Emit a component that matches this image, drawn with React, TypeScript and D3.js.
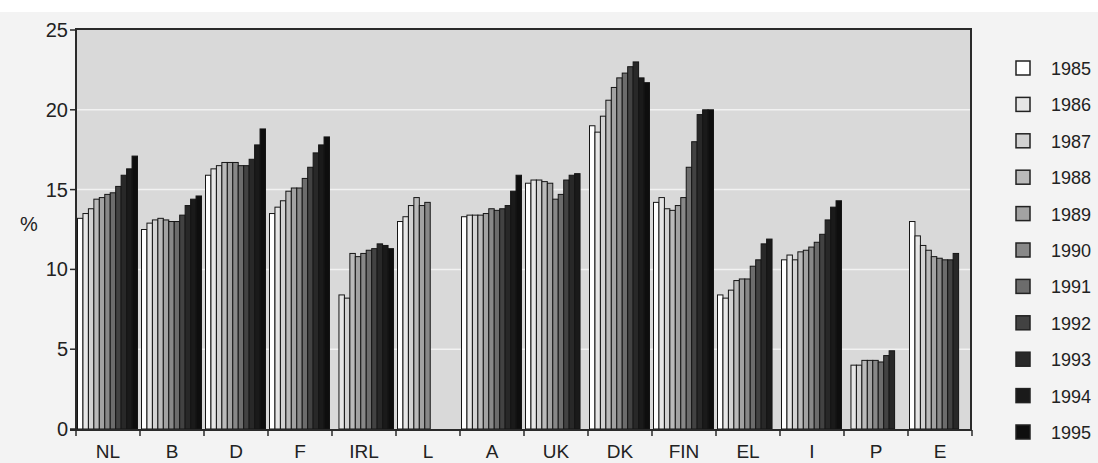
import React from "react";
import * as d3 from "d3";

const years = ["1985", "1986", "1987", "1988", "1989", "1990", "1991", "1992", "1993", "1994", "1995"];
const countries = ["NL", "B", "D", "F", "IRL", "L", "A", "UK", "DK", "FIN", "EL", "I", "P", "E"];
const yTicks = [0, 5, 10, 15, 20, 25];

// values per country, 1985..1995 (null = no bar)
const NL = [13.2, 13.5, 13.8, 14.4, 14.5, 14.7, 14.8, 15.2, 15.9, 16.3, 17.1];
const B = [12.5, 12.9, 13.1, 13.2, 13.1, 13.0, 13.0, 13.4, 14.0, 14.4, 14.6];
const D = [15.9, 16.3, 16.5, 16.7, 16.7, 16.7, 16.5, 16.5, 16.9, 17.8, 18.8];
const F = [13.5, 13.9, 14.3, 14.9, 15.1, 15.1, 15.7, 16.4, 17.3, 17.8, 18.3];
const IRL = [null, 8.4, 8.2, 11.0, 10.8, 11.0, 11.2, 11.3, 11.6, 11.5, 11.3];
const L = [13.0, 13.3, 14.0, 14.5, 14.0, 14.2, null, null, null, null, null];
const A = [13.3, 13.4, 13.4, 13.4, 13.5, 13.8, 13.7, 13.8, 14.0, 14.9, 15.9];
const UK = [15.4, 15.6, 15.6, 15.5, 15.4, 14.4, 14.7, 15.6, 15.9, 16.0, null];
const DK = [19.0, 18.6, 19.6, 20.6, 21.4, 22.0, 22.3, 22.7, 23.0, 22.0, 21.7];
const FIN = [14.2, 14.5, 13.8, 13.7, 14.0, 14.5, 16.4, 18.0, 19.7, 20.0, 20.0];
const EL = [8.4, 8.2, 8.7, 9.3, 9.4, 9.4, 10.2, 10.6, 11.6, 11.9, null];
const I = [10.6, 10.9, 10.6, 11.1, 11.2, 11.4, 11.7, 12.2, 13.1, 13.9, 14.3];
const P = [null, 4.0, 4.0, 4.3, 4.3, 4.3, 4.2, 4.6, 4.9, null, null];
const E = [13.0, 12.1, 11.5, 11.2, 10.8, 10.7, 10.6, 10.6, 11.0, null, null];

const values: (number | null)[][] = [NL, B, D, F, IRL, L, A, UK, DK, FIN, EL, I, P, E];

const yearColors = [
  "#ffffff", "#e6e6e6", "#d2d2d2", "#bababa", "#a2a2a2", "#888888",
  "#6c6c6c", "#424242", "#282828", "#1a1a1a", "#0e0e0e",
];

const W = 1098;
const H = 463;
const plot = { left: 76, right: 971, top: 29, bottom: 430 };
const font = "'Liberation Sans', Arial, Helvetica, sans-serif";

export default function App() {
  const x = d3.scaleBand<string>().domain(countries).range([plot.left, plot.right + 1]);
  const xYear = d3.scaleBand<string>().domain(years).range([1.5, 61.5]);
  const y = d3.scaleLinear().domain([0, 25]).range([plot.bottom - 1, plot.top + 1]);
  const legendY = d3.scalePoint<string>().domain(years).range([68, 432]);
  const boundaries = countries.map((c) => x(c)!).concat([plot.right + 1]);

  return (
    <svg
      width={W}
      height={H}
      style={{ position: "absolute", left: 0, top: 0, background: "#f3f3f3" }}
      fontFamily={font}
    >
      <rect x={0} y={0} width={W} height={12} fill="#ffffff" />
      <rect
        x={plot.left}
        y={plot.top}
        width={plot.right - plot.left}
        height={plot.bottom - plot.top}
        fill="#d9d9d9"
      />
      {/* grid */}
      {yTicks.filter((t) => t > 0 && t < 25).map((t) => (
        <line
          key={"g" + t}
          x1={plot.left}
          x2={plot.right}
          y1={y(t)}
          y2={y(t)}
          stroke="#f2f2f2"
          strokeWidth={1.5}
        />
      ))}
      {/* bars */}
      {countries.map((c, ci) => (
        <g key={c} transform={`translate(${x(c)},0)`}>
          {values[ci].map((v, yi) =>
            v == null ? null : (
              <rect
                key={yi}
                x={xYear(years[yi])}
                y={y(v)}
                width={xYear.bandwidth()}
                height={y(0) - y(v)}
                fill={yearColors[yi]}
                stroke="#151515"
                strokeWidth={1}
              />
            )
          )}
        </g>
      ))}
      {/* frame */}
      <path
        d={`M${plot.left},${plot.top}H${plot.right}V${plot.bottom}`}
        fill="none"
        stroke="#2a2a2a"
        strokeWidth={2}
      />
      <line x1={plot.left} x2={plot.left} y1={plot.top - 1} y2={plot.bottom + 1} stroke="#2a2a2a" strokeWidth={2} />
      <line x1={plot.left - 6} x2={plot.right + 1} y1={plot.bottom} y2={plot.bottom} stroke="#2a2a2a" strokeWidth={2} />
      {/* y axis */}
      {yTicks.map((t) => (
        <g key={"y" + t}>
          <line x1={plot.left - 6} x2={plot.left} y1={y(t)} y2={y(t)} stroke="#2a2a2a" strokeWidth={1.5} />
          <text x={plot.left - 8} y={y(t) + 7} textAnchor="end" fontSize={20} fill="#222">
            {t}
          </text>
        </g>
      ))}
      <text x={29} y={231} textAnchor="middle" fontSize={20} fill="#222">
        %
      </text>
      {/* x axis */}
      {boundaries.map((b, i) => (
        <line key={"xt" + i} x1={b} x2={b} y1={plot.bottom} y2={plot.bottom + 6} stroke="#2a2a2a" strokeWidth={1.5} />
      ))}
      {countries.map((c) => (
        <text key={"xl" + c} x={x(c)! + x.bandwidth() / 2} y={458} textAnchor="middle" fontSize={19} fill="#222">
          {c}
        </text>
      ))}
      {/* legend */}
      {years.map((yr, i) => (
        <g key={"lg" + yr} transform={`translate(0,${legendY(yr)})`}>
          <rect x={1016} y={-7} width={14} height={14} fill={yearColors[i]} stroke="#222" strokeWidth={1.5} />
          <text x={1051} y={7} fontSize={18} fill="#222">
            {yr}
          </text>
        </g>
      ))}
    </svg>
  );
}
